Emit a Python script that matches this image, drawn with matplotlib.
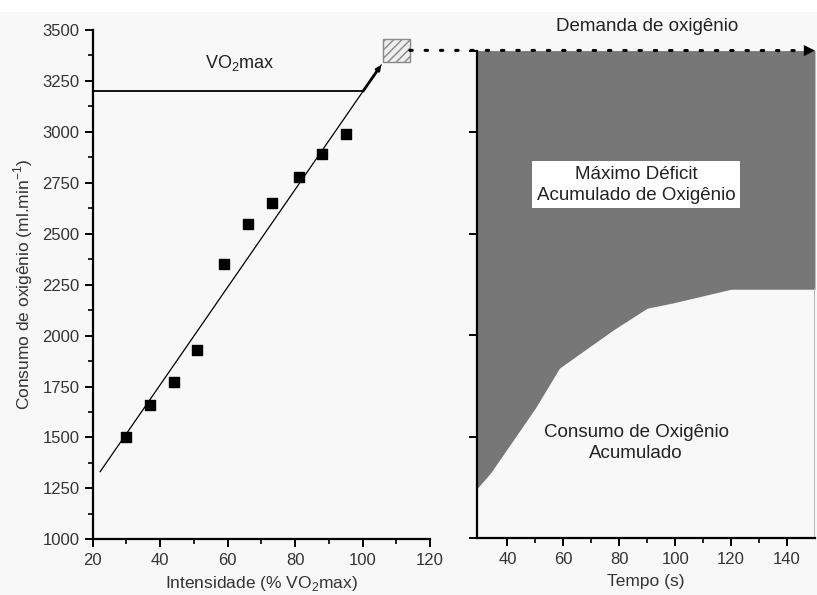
import numpy as np
import matplotlib
matplotlib.use('Agg')
import matplotlib.pyplot as plt
from matplotlib.patches import Rectangle, ConnectionPatch

plt.rcParams['font.family'] = ['Liberation Sans', 'DejaVu Sans']
plt.rcParams['mathtext.fontset'] = 'custom'
plt.rcParams['mathtext.rm'] = 'Liberation Sans'

# dados do painel esquerdo (intensidade x consumo)
intensidade = [30, 37, 44, 51, 59, 66, 73, 81, 88, 95]
consumo = [1500, 1660, 1770, 1930, 2350, 2550, 2650, 2780, 2890, 2990]
fit_x = [22.2, 105.5]
fit_y = [1332, 3328]
vo2max = 3200
demanda = 3400

# dados do painel direito (tempo x consumo acumulado)
tempo = [29, 34, 50, 58.6, 67, 78, 90, 99, 120, 150]
consumo_acum = [1244, 1323, 1642, 1838, 1920, 2027, 2133, 2158, 2226, 2226]

fig = plt.figure(figsize=(8.17, 5.95), dpi=100)
fig.patch.set_facecolor('white')
fig.patches.append(Rectangle((0, 0), 1, 0.98, transform=fig.transFigure,
                             facecolor='#f8f8f8', edgecolor='none', zorder=-10))

ax1 = fig.add_axes([0.1135, 0.0936, 0.4129, 0.856])
ax2 = fig.add_axes([0.5835, 0.095, 0.414, 0.820])
for ax in (ax1, ax2):
    ax.set_facecolor('none')
    ax.spines['top'].set_visible(False)
    ax.spines['right'].set_visible(False)
    ax.spines['left'].set_linewidth(1.6)
    ax.spines['bottom'].set_linewidth(1.6)
    ax.tick_params(which='major', direction='out', length=6, width=1.4, labelsize=12,
                   labelcolor='#333333')
    ax.tick_params(which='minor', direction='out', length=3.5, width=1.2)

# painel esquerdo
ax1.plot(fit_x, fit_y, color='black', lw=0.9)
x_int = np.interp(vo2max, fit_y, fit_x)
ax1.plot([20, x_int], [vo2max, vo2max], color='black', lw=1.3)
ax1.annotate('', xy=(fit_x[1], fit_y[1]),
             xytext=(x_int, vo2max),
             arrowprops=dict(arrowstyle='-|>', color='black', lw=2, mutation_scale=6,
                             shrinkA=0, shrinkB=0))
ax1.scatter(intensidade, consumo, marker='s', s=55, color='black', zorder=3)
ax1.add_patch(Rectangle((106, 3343), 8, 113, facecolor='#eeeeee', edgecolor='#888888',
                        hatch='////', lw=1, clip_on=False))
ax1.text(63.5, 3340, 'VO$_2$max', ha='center', va='center', fontsize=13, color='#222222')
ax1.set_xlim(20, 120)
ax1.set_ylim(1000, 3500)
ax1.set_xticks(range(20, 121, 20))
ax1.set_xticks(range(30, 120, 20), minor=True)
ax1.set_yticks(range(1000, 3501, 250))
ax1.set_yticks(range(1125, 3500, 250), minor=True)
ax1.set_xlabel('Intensidade (% VO$_2$max)', fontsize=12.5, labelpad=5, color='#333333')
ax1.set_ylabel('Consumo de oxigênio (ml.min$^{-1}$)', fontsize=12.5, labelpad=5,
               color='#333333')

# painel direito
ax2.fill_between(tempo, consumo_acum, demanda, color='#777777', lw=0)
ax2.plot([150, 150], [1000, consumo_acum[-1]], color='#aaaaaa', lw=1.2)
ax2.set_xlim(29, 150)
ax2.set_ylim(1000, demanda)
ax2.set_xticks(range(40, 141, 20))
ax2.set_xticks(range(50, 150, 20), minor=True)
ax2.set_yticks([1000, 1500, 2000, 2500, 3000, demanda])
ax2.set_yticklabels([])
ax2.set_xlabel('Tempo (s)', fontsize=12.5, labelpad=5, color='#333333')
ax2.text(90, 3520, 'Demanda de oxigênio', ha='center', va='center', fontsize=13.5,
         color='#222222')
ax2.text(86, 2740, 'Máximo Déficit\nAcumulado de Oxigênio', ha='center', va='center',
         fontsize=13.5, linespacing=1.3, color='#222222',
         bbox=dict(facecolor='white', edgecolor='none', boxstyle='square,pad=0.25'))
ax2.text(86, 1470, 'Consumo de Oxigênio\nAcumulado', ha='center', va='center',
         fontsize=13.5, linespacing=1.3, color='#222222')

# linha pontilhada da demanda
con = ConnectionPatch(xyA=(114, demanda), coordsA=ax1.transData,
                      xyB=(147, demanda), coordsB=ax2.transData,
                      color='black', lw=2.2, linestyle=(0, (0.8, 4.2)),
                      capstyle='round')
fig.add_artist(con)
ax2.annotate('', xy=(150, demanda), xytext=(146, demanda),
             arrowprops=dict(arrowstyle='-|>', color='black', lw=0, mutation_scale=20,
                             shrinkA=0, shrinkB=0), annotation_clip=False)

plt.savefig('out.png', dpi=100)
plt.close()
